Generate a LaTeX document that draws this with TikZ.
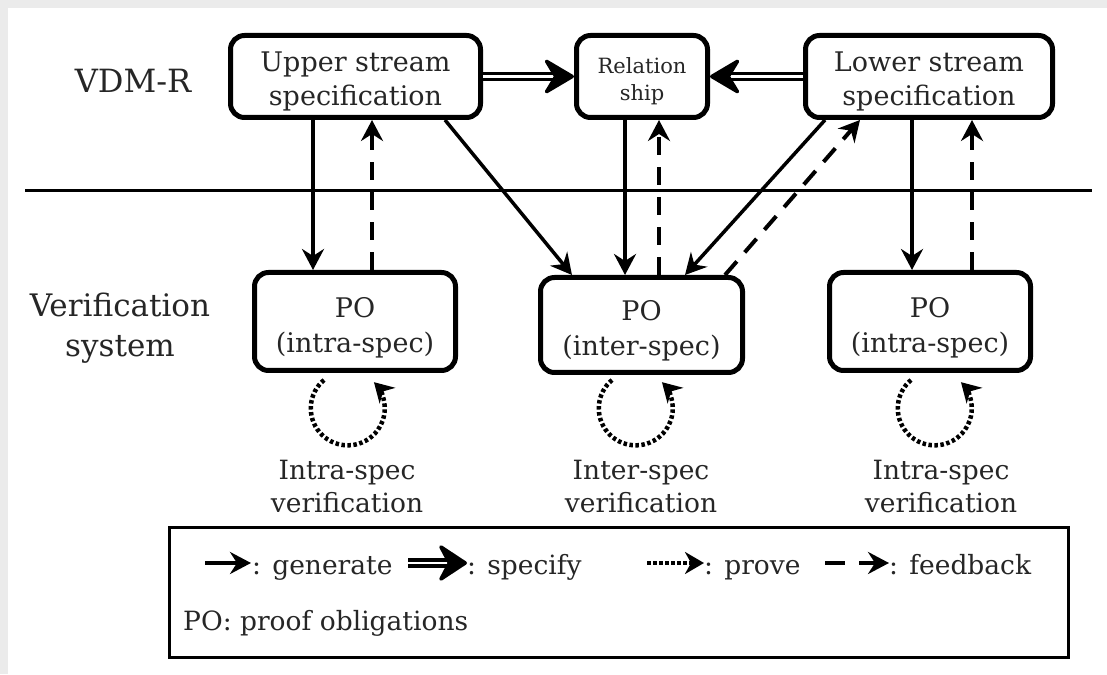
\documentclass[tikz,border=0pt]{standalone}
\usepackage{fontspec}
\setmainfont{DejaVu Serif}
\usetikzlibrary{arrows.meta}
\newcommand{\fsz}[2]{\fontsize{#1}{#2}\selectfont}
% invisible strut that lowers a centred text block a little
\newcommand{\lift}[1]{\rule{0pt}{#1}}
\definecolor{frame}{HTML}{EBEBEB}
\definecolor{ink}{HTML}{262626}

\tikzset{
  box/.style={draw, line width=5pt, rounded corners=14pt, inner sep=0pt,
    align=center, text=ink},
  lbl/.style={inner sep=0pt, align=center, text=ink},
  gen/.style={line width=3.5pt, -{Stealth[length=21pt,width=22pt,inset=7pt]}},
  fback/.style={gen, line width=4pt, dash pattern=on 18pt off 12pt},
  spec/.style={double=white, double distance=2.5pt, line width=3.5pt,
    -{Stealth[length=34pt,width=40pt,inset=12pt,round]}},
  prove/.style={line width=4.5pt, dash pattern=on 3.5pt off 2.5pt,
    -{Stealth[length=19pt,width=22pt,inset=6pt]}},
}

\begin{document}
\begin{tikzpicture}[x=1pt,y=1pt]
  \useasboundingbox (0,0) rectangle (1107,674);
  % page background with its light frame
  \fill[frame] (0,0) rectangle (1107,674);
  \fill[white] (8,0) rectangle (1107,666);

  % layer labels and separator
  \node[lbl, font=\fsz{32}{36}] (vdm) at (133,593) {VDM-R};
  \node[lbl, font=\fsz{31}{40}] (vsys) at (120,346) {Verification\\system};
  \draw[line width=3pt] (25,483) coordinate (sepL) -- (1092,483) coordinate (sepR);

  % specifications
  \node[box, font=\fsz{27}{34}, minimum width=250pt, minimum height=82pt]
    (up) at (355.5,597.5) {\lift{30pt}Upper stream\\specification};
  \node[box, font=\fsz{21}{27}, minimum width=131pt, minimum height=82pt]
    (rel) at (642,597.5) {\lift{26pt}Relation\\ship};
  \node[box, font=\fsz{27}{34}, minimum width=247pt, minimum height=82pt]
    (low) at (929,597.5) {\lift{30pt}Lower stream\\specification};

  % proof obligations
  \node[box, font=\fsz{27}{35}, minimum width=201pt, minimum height=98pt]
    (po1) at (355,352.5) {\lift{32pt}PO\\(intra-spec)};
  \node[box, font=\fsz{27}{35}, minimum width=202pt, minimum height=95pt]
    (po2) at (641.5,349) {\lift{32pt}PO\\(inter-spec)};
  \node[box, font=\fsz{27}{35}, minimum width=201pt, minimum height=98pt]
    (po3) at (930,352.5) {\lift{32pt}PO\\(intra-spec)};

  % specify
  \draw[spec] (up.east) -- (rel.west);
  \draw[spec] (low.west) -- (rel.east);

  % generate
  \draw[gen] ([xshift=-42.5pt]up.south) -- ([xshift=-42pt]po1.north);
  \draw[gen] ([xshift=89.5pt]up.south) -- ([xshift=-69.5pt]po2.north);
  \draw[gen] ([xshift=-17pt]rel.south) -- ([xshift=-16.5pt]po2.north);
  \draw[gen] ([xshift=-104pt]low.south) -- ([xshift=43.5pt]po2.north);
  \draw[gen] ([xshift=-17pt]low.south) -- ([xshift=-18pt]po3.north);

  % feedback
  \draw[fback] ([xshift=17pt]po1.north) -- ([xshift=16.5pt]up.south);
  \draw[fback] ([xshift=17.5pt]po2.north) -- ([xshift=17pt]rel.south);
  \draw[fback] ([xshift=83.5pt]po2.north) -- ([xshift=-69pt]low.south);
  \draw[fback] ([xshift=42pt]po3.north) -- ([xshift=43pt]low.south);

  % prove loops
  \draw[prove] ([xshift=-31pt,yshift=-7pt]po1.south)
    arc[start angle=130, end angle=405, radius=37pt];
  \draw[prove] ([xshift=-29.5pt,yshift=-5pt]po2.south)
    arc[start angle=130, end angle=405, radius=37pt];
  \draw[prove] ([xshift=-19pt,yshift=-7pt]po3.south)
    arc[start angle=130, end angle=405, radius=37pt];

  \node[lbl, font=\fsz{26.5}{33}] (v1) at (347,187) {Intra-spec\\verification};
  \node[lbl, font=\fsz{26.5}{33}] (v2) at (641,187) {Inter-spec\\verification};
  \node[lbl, font=\fsz{26.5}{33}] (v3) at (941,187) {Intra-spec\\verification};

  % legend
  \draw[line width=3pt] (169,146) rectangle (1068,17);
  \coordinate (g0) at (205,111);  \coordinate (g1) at (251,111);
  \coordinate (s0) at (408,111);  \coordinate (s1) at (467,111);
  \coordinate (p0) at (647,111);  \coordinate (p1) at (704,111);
  \coordinate (f0) at (825,111);  \coordinate (f1) at (889,111);
  \draw[gen] (g0) -- (g1);
  \draw[spec, -{Stealth[length=32pt,width=42pt,inset=11pt,round]}] (s0) -- (s1);
  \draw[prove] (p0) -- (p1);
  \draw[gen, dash pattern=on 20pt off 14pt] (f0) -- (f1);
  \node[lbl, font=\fsz{26.5}{32}, anchor=base west] (tg) at (252,99) {: generate};
  \node[lbl, font=\fsz{26.5}{32}, anchor=base west] (ts) at (467,99) {: specify};
  \node[lbl, font=\fsz{26.5}{32}, anchor=base west] (tp) at (704,99) {: prove};
  \node[lbl, font=\fsz{26.5}{32}, anchor=base west] (tf) at (889,99) {: feedback};
  \node[lbl, font=\fsz{26.5}{32}, anchor=base west] (tpo) at (183,44) {PO: proof obligations};
\end{tikzpicture}
\end{document}
